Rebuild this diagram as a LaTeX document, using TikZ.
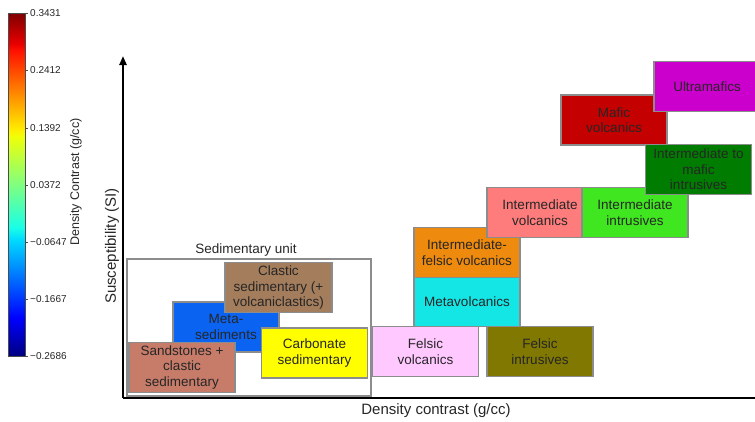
\documentclass[tikz,border=0pt]{standalone}
\usepackage{fontspec}
\setmainfont{Liberation Sans}
\usetikzlibrary{arrows.meta}
\def\boxw{106}
\def\boxh{50}

% jet colour map for the colour bar
\definecolor{jet0}{rgb}{0,0,0.5}
\definecolor{jet1}{rgb}{0,0,1}
\definecolor{jet2}{rgb}{0,0.86,1}
\definecolor{jet3}{rgb}{0.1,1,0.9}
\definecolor{jet4}{rgb}{0.5,1,0.5}
\definecolor{jet5}{rgb}{0.94,1,0.03}
\definecolor{jet6}{rgb}{1,0.93,0}
\definecolor{jet7}{rgb}{1,0.07,0}
\definecolor{jet8}{rgb}{0.91,0,0}
\definecolor{jet9}{rgb}{0.5,0,0}
\pgfdeclareverticalshading{jet}{100bp}{color(0bp)=(jet0); color(25bp)=(jet0);
  color(30.5bp)=(jet1); color(42bp)=(jet2); color(43.75bp)=(jet3);
  color(50bp)=(jet4); color(57bp)=(jet5); color(58bp)=(jet6);
  color(69.5bp)=(jet7); color(70.5bp)=(jet8); color(75bp)=(jet9);
  color(100bp)=(jet9)}

% rock unit colours
\definecolor{sandc}{HTML}{C77B69}
\definecolor{metasedc}{HTML}{0B63F2}
\definecolor{clasticc}{HTML}{A47D5C}
\definecolor{carbc}{HTML}{FFFF00}
\definecolor{felvolc}{HTML}{FFC8FF}
\definecolor{felintc}{HTML}{807800}
\definecolor{metavolc}{HTML}{14E6E6}
\definecolor{intfelc}{HTML}{EE8A0E}
\definecolor{intvolc}{HTML}{FF7C7C}
\definecolor{intintc}{HTML}{40E620}
\definecolor{intmafc}{HTML}{007C00}
\definecolor{mafvolc}{HTML}{C40000}
\definecolor{ultrac}{HTML}{CC00CC}

\begin{document}
\begin{tikzpicture}[x=1pt,y=-1pt]
    \tikzstyle{rock}=[draw=black!45,line width=1.8pt,minimum width=\boxw pt,
        minimum height=\boxh pt,inner sep=0pt,align=center,text=black!85,
        font=\fontsize{13.5}{15.5}\selectfont]
    \tikzstyle{unit}=[draw=black!45,line width=1.8pt,fill=white]
    \tikzstyle{axis}=[line width=2.2pt,black]
    \tikzstyle{tick label}=[anchor=west,inner sep=0pt,font=\fontsize{10}{12}\selectfont,text=black!85]
    \tikzstyle{axis label}=[inner sep=0pt,font=\fontsize{15}{18}\selectfont,text=black!85]

    \clip (0,0) rectangle (755,421);

    % Draw the colour bar
    \shade[shading=jet,draw=black!70,line width=0.6pt] (8,13) rectangle (25,356);
    \foreach \name / \y / \lab in {a/13/0.3431,b/70/0.2412,c/128/0.1392,
        d/185/0.0372,e/242/−0.0647,f/299/−0.1667,g/356/−0.2686}
    {
        \draw[black!70,line width=0.6pt] (25,\y) -- (28,\y);
        \node[tick label] (tick-\name) at (30,\y) {\lab};
    }
    \node[rotate=90,inner sep=0pt,font=\fontsize{12.5}{14}\selectfont,text=black!85]
        (barlabel) at (76,182) {Density Contrast (g/cc)};

    % Draw the axes
    \coordinate (origin) at (123,398);
    \coordinate (ytip) at (123,56);
    \coordinate (xend) at (756,398);
    \node[axis label,rotate=90] (ylabel) at (112,246) {Susceptibility (SI)};
    \node[axis label] (xlabel) at (436,411) {Density contrast (g/cc)};

    % Sedimentary units
    \node[unit,minimum width=244pt,minimum height=137pt] (sed) at (249,327.5) {};
    \node[font=\fontsize{13.5}{16}\selectfont,text=black!85,inner sep=0pt] (sedlabel) at (246,250) {Sedimentary unit};
    \node[rock,fill=metasedc] (metased) at (226,327) {Meta-\\sediments};
    \node[rock,fill=clasticc,minimum width=107pt] (clastic) at (278.5,287.5) {Clastic\\sedimentary (+\\volcaniclastics)};
    \node[rock,fill=sandc] (sand) at (182,367.5) {Sandstones +\\clastic\\sedimentary};
    \node[rock,fill=carbc] (carb) at (314.5,353) {Carbonate\\sedimentary};

    % Volcanic and intrusive units
    \node[rock,fill=felvolc] (felvol) at (425.5,351.5) {Felsic\\volcanics};
    \node[rock,fill=felintc] (felint) at (540,351.5) {Felsic\\intrusives};
    \node[rock,fill=metavolc] (metavol) at (467,301.5) {Metavolcanics};
    \node[rock,fill=intfelc] (intfel) at (467,252.5) {Intermediate-\\felsic volcanics};
    \node[rock,fill=intvolc] (intvol) at (540,212.5) {Intermediate\\volcanics};
    \node[rock,fill=intintc] (intint) at (635,212.5) {Intermediate\\intrusives};
    \node[rock,fill=mafvolc] (mafvol) at (614,120) {Mafic\\volcanics};
    \node[rock,fill=intmafc] (intmaf) at (698.5,169.5) {Intermediate to\\mafic\\intrusives};
    \node[rock,fill=ultrac] (ultra) at (707,86.5) {Ultramafics};

    \draw[axis,-{Triangle[length=9pt,width=7pt]}] (origin) -- (ytip);
    \draw[axis] (origin) -- (xend);
\end{tikzpicture}
\end{document}
